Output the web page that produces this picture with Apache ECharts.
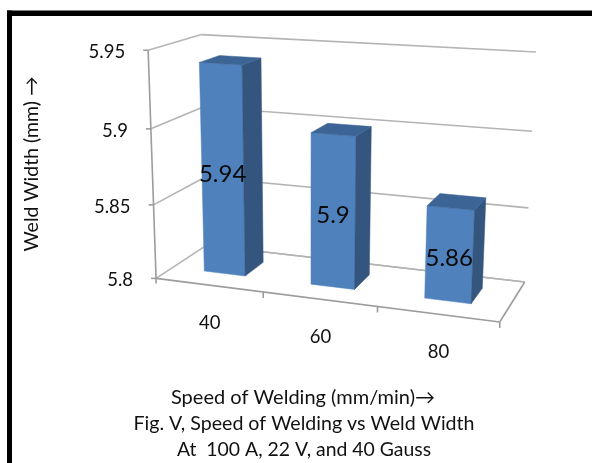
<!DOCTYPE html>
<html><head><meta charset="utf-8">
<style>html,body{margin:0;padding:0;background:#fff}#c{width:592px;height:463px}</style>
<script src="https://cdn.jsdelivr.net/npm/echarts@6/dist/echarts.min.js"></script>
</head><body><div id="c"></div>
<script>
var categories = ['40', '60', '80'];
var values = [5.94, 5.9, 5.86];
var valueTicks = [5.8, 5.85, 5.9, 5.95];
var yMin = 5.8, yMax = 5.95, yStep = 0.05;
var yTitle = 'Weld Width (mm) \u2192';
var captions = ['Speed of Welding (mm/min)\u2192', 'Fig. V, Speed of Welding vs Weld Width', 'At  100 A, 22 V, and 40 Gauss'];

// camera calibration: (u along categories, d into depth, v up the value axis) -> screen
var calibration = [
 [0,0,0,157,277],[0,0,1,147,51],[0,0,2/3,150,129],[0,0,1/3,154,204],
 [1/3,0,0,264,292],[2/3,0,0,377,307],[1,0,0,500,323],
 [0,1,0,205,247],[0,1,1,203,34],[1,1,0,525,281],[1,1,1,536,52],[1,1,2/3,532,132],[1,1,1/3,528,207]
];
function solveCamera(pts){
  var n=11,A=[],b=[],i,j,k;
  for(i=0;i<n;i++){A.push(new Array(n).fill(0));b.push(0);}
  function add(r,t){for(i=0;i<n;i++){b[i]+=r[i]*t;for(j=0;j<n;j++)A[i][j]+=r[i]*r[j];}}
  pts.forEach(function(p){var U=p[0],D=p[1],V=p[2],x=p[3],y=p[4];
    add([U,D,V,1,0,0,0,0,-x*U,-x*D,-x*V],x);
    add([0,0,0,0,U,D,V,1,-y*U,-y*D,-y*V],y);});
  for(k=0;k<n;k++){var m=k;for(i=k+1;i<n;i++)if(Math.abs(A[i][k])>Math.abs(A[m][k]))m=i;
    var tA=A[k];A[k]=A[m];A[m]=tA;var tb=b[k];b[k]=b[m];b[m]=tb;
    for(i=0;i<n;i++){if(i===k)continue;var f=A[i][k]/A[k][k];for(j=k;j<n;j++)A[i][j]-=f*A[k][j];b[i]-=f*b[k];}}
  return b.map(function(v,q){return v/A[q][q];});
}
var cam=solveCamera(calibration);
function proj(u,d,v){
  var w=cam[8]*u+cam[9]*d+cam[10]*v+1;
  return [(cam[0]*u+cam[1]*d+cam[2]*v+cam[3])/w,(cam[4]*u+cam[5]*d+cam[6]*v+cam[7])/w];
}
var GRID=300;
var font='Lato, Carlito, "Open Sans", sans-serif';
var BAR=0.39, D0=0.32, D1=0.72;
function uv(api,c,val){var p=api.coord([c,val]);return [p[0]/GRID,1-p[1]/GRID];}
function poly(pts,color,z){return {type:'polygon',z2:z||0,shape:{points:pts},style:{fill:color,stroke:color,lineWidth:0.5}};}
function seg(a,b,color,w){return {type:'line',shape:{x1:a[0],y1:a[1],x2:b[0],y2:b[1]},style:{stroke:color,lineWidth:w||1.6}};}
var GRIDLINE='#b4b4b4', AXIS='#9c9c9c', INK='#111';

var option={
 animation:false,
 backgroundColor:'#fff',
 grid:{left:0,top:0,width:GRID,height:GRID},
 xAxis:{type:'category',data:categories,show:false},
 yAxis:{type:'value',min:yMin,max:yMax,interval:yStep,show:false},
 graphic:{elements:[
  {type:'rect',shape:{x:7,y:10.5,width:585,height:5.5},style:{fill:'#000'}},
  {type:'rect',shape:{x:7,y:10.5,width:5,height:452.5},style:{fill:'#000'}},
  {type:'text',x:32,y:164,rotation:Math.PI/2,style:{text:yTitle,font:'19.5px '+font,fill:INK,align:'center',verticalAlign:'middle'}},
  {type:'text',x:303,y:398,style:{text:captions[0],font:'20px '+font,fill:INK,align:'center',verticalAlign:'middle'}},
  {type:'text',x:304,y:424,style:{text:captions[1],font:'19.6px '+font,fill:INK,align:'center',verticalAlign:'middle'}},
  {type:'text',x:304,y:450,style:{text:captions[2],font:'19.4px '+font,fill:INK,align:'center',verticalAlign:'middle'}}
 ]},
 series:[
 {type:'custom',coordinateSystem:'cartesian2d',silent:true,z:2,data:valueTicks.map(function(t){return [0,t];}),
  renderItem:function(p,api){
   var v=uv(api,0,api.value(1))[1];
   var a=proj(0,0,v),b=proj(0,1,v),c=proj(1,1,v);
   var kids=[seg(a,b,GRIDLINE),seg(b,c,GRIDLINE),seg([a[0]-5,a[1]],a,AXIS),
    {type:'text',x:a[0]-23,y:a[1]+2,style:{text:String(api.value(1)),font:'18.5px '+font,fill:INK,align:'right',verticalAlign:'middle'}}];
   return {type:'group',children:kids};
  }},
 {type:'custom',coordinateSystem:'cartesian2d',silent:true,z:3,data:categories.map(function(c,i){return [i];}),
  renderItem:function(p,api){
   var i=api.value(0),w=api.size([1,0])[0]/GRID,m=api.coord([i,yMin])[0]/GRID;
   var a=proj(m+w/2,0,0),mid=proj(m,0,0);
   var kids=[];
   if(i===0){var o=proj(0,0,0);kids.push(seg(o,proj(0,0,1),AXIS),seg(o,proj(1,0,0),AXIS),seg(proj(1,0,0),proj(1,1,0),AXIS),seg(proj(0,1,0),proj(1,1,0),GRIDLINE));
     kids.push(seg(o,[o[0],o[1]+5],AXIS));}
   kids.push(seg(a,[a[0],a[1]+6],AXIS));
   kids.push({type:'text',x:mid[0]+1,y:mid[1]+38,style:{text:categories[i],font:'18.5px '+font,fill:INK,align:'center',verticalAlign:'middle'}});
   return {type:'group',children:kids};
  }},
 {type:'custom',coordinateSystem:'cartesian2d',silent:true,z:4,
  data:values.map(function(v,i){return [i,v];}),
  encode:{x:0,y:1},
  renderItem:function(p,api){
   var i=api.value(0),val=api.value(1);
   var w=api.size([1,0])[0]/GRID*BAR;
   var m=api.coord([i,val])[0]/GRID, v=1-api.coord([i,val])[1]/GRID;
   var l=m-w/2,r=m+w/2;
   var fbl=proj(l,D0,0),fbr=proj(r,D0,0),ftl=proj(l,D0,v),ftr=proj(r,D0,v);
   var bbr=proj(r,D1,0),btr=proj(r,D1,v),btl=proj(l,D1,v);
   var c=proj(m,D0,v/2);
   return {type:'group',children:[
    poly([fbl,fbr,ftr,ftl],'#4f81bd'),
    poly([fbr,bbr,btr,ftr],'#34557e'),
    poly([ftl,ftr,btr,btl],'#3c6596'),
    {type:'text',x:c[0],y:c[1]+3,z2:5,style:{text:String(val),font:'24px '+font,fill:'#0a0a0a',align:'center',verticalAlign:'middle'}}
   ]};
  }}
 ]
};
var chart=echarts.init(document.getElementById('c'),null,{renderer:'canvas'});
chart.setOption(option);
</script></body></html>
